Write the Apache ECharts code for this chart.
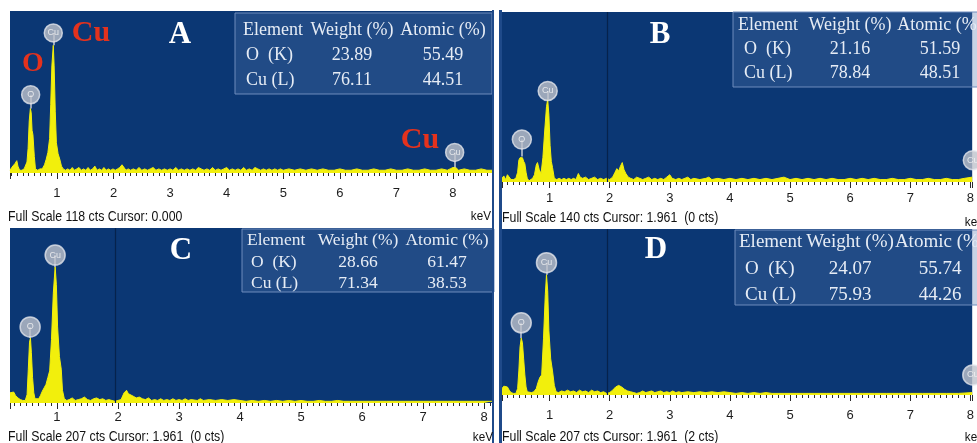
<!DOCTYPE html>
<html><head><meta charset="utf-8">
<script src="https://cdn.jsdelivr.net/npm/echarts@6/dist/echarts.min.js"></script>
<style>html,body{margin:0;padding:0;background:#fff}#c{width:977px;height:443px}</style>
</head><body><div id="c"></div>
<script>
// ---------------- DATA ----------------
const panelLetters = ['A', 'B', 'C', 'D'];
const fullScaleCts = [118, 140, 207, 207];
const keVRange = [[0.17, 8.69], [0.21, 8.03], [0.23, 8.13], [0.21, 8.03]];
const cursorKeV = [null, 1.961, 1.961, 1.961];
const footerTexts = [
  'Full Scale 118 cts Cursor: 0.000',
  'Full Scale 140 cts Cursor: 1.961  (0 cts)',
  'Full Scale 207 cts Cursor: 1.961  (0 cts)',
  'Full Scale 207 cts Cursor: 1.961  (2 cts)'
];
const unitLabel = 'keV';

// spectra: [keV, counts]
const spectrumA = [[0.17,2],[0.20,4],[0.23,3],[0.26,7],[0.29,9],[0.31,5],[0.34,2],[0.38,2],[0.42,3],[0.45,3],[0.47,8],[0.49,18],[0.51,38],[0.53,47],[0.545,44],[0.56,31],[0.575,28],[0.59,27],[0.60,12],[0.62,3],[0.66,2],[0.70,3],[0.74,3],[0.78,6],[0.81,10],[0.84,15],[0.87,25],[0.89,50],[0.91,78],[0.935,93],[0.95,78],[0.97,45],[0.99,22],[1.02,14],[1.05,10],[1.08,5],[1.11,3],[1.15,2],[1.19,3],[1.23,2],[1.27,4],[1.31,2],[1.35,3],[1.39,4],[1.43,2],[1.47,3],[1.51,2],[1.55,4],[1.59,2],[1.63,3],[1.67,5],[1.71,2],[1.75,3],[1.79,2],[1.83,4],[1.87,2],[1.91,3],[1.95,2],[1.99,3],[2.03,2],[2.07,3],[2.11,4],[2.15,6],[2.18,5],[2.22,2],[2.26,3],[2.30,2],[2.35,3],[2.40,2],[2.45,4],[2.50,2],[2.55,3],[2.60,2],[2.65,3],[2.70,4],[2.75,2],[2.80,3],[2.85,2],[2.90,3],[2.95,2],[3.0,3],[3.05,2],[3.10,4],[3.15,2],[3.20,3],[3.25,2],[3.30,3],[3.35,2],[3.40,3],[3.45,2],[3.50,4],[3.55,3],[3.60,2],[3.65,3],[3.70,2],[3.75,4],[3.80,2],[3.85,3],[3.90,2],[3.95,3],[4.0,4],[4.05,2],[4.10,3],[4.15,2],[4.20,3],[4.25,2],[4.30,4],[4.35,2],[4.40,3],[4.45,2],[4.50,4],[4.55,3],[4.60,2],[4.65,3],[4.70,2],[4.75,3],[4.80,2],[4.85,3],[4.90,2],[4.95,3],[5.0,2],[5.1,3],[5.2,2],[5.3,3],[5.4,2],[5.5,3],[5.6,2],[5.7,3],[5.8,2],[5.9,2],[6.0,3],[6.1,2],[6.2,2],[6.3,3],[6.4,2],[6.5,2],[6.6,3],[6.7,2],[6.8,2],[6.9,3],[7.0,2],[7.1,2],[7.2,3],[7.3,2],[7.4,2],[7.5,3],[7.6,2],[7.7,2],[7.8,3],[7.9,2],[7.95,3],[8.0,4],[8.05,4],[8.1,2],[8.2,3],[8.3,2],[8.4,2],[8.5,3],[8.6,2],[8.69,2]];
const spectrumB = [[0.21,3],[0.24,5],[0.27,2],[0.30,6],[0.33,5],[0.36,2],[0.40,2],[0.44,3],[0.47,8],[0.49,18],[0.51,20],[0.53,21],[0.55,20],[0.57,17],[0.59,15],[0.61,8],[0.63,3],[0.66,1],[0.69,2],[0.72,3],[0.75,6],[0.78,14],[0.80,16],[0.83,10],[0.86,7],[0.89,20],[0.92,42],[0.95,62],[0.97,68],[0.99,55],[1.01,30],[1.03,17],[1.05,12],[1.08,3],[1.12,2],[1.16,3],[1.2,2],[1.24,3],[1.28,2],[1.32,3],[1.36,2],[1.40,3],[1.44,2],[1.48,7],[1.51,4],[1.55,3],[1.6,4],[1.65,2],[1.7,3],[1.75,4],[1.8,2],[1.85,3],[1.9,2],[1.95,3],[2.0,2],[2.05,4],[2.09,8],[2.12,11],[2.15,9],[2.18,13],[2.21,16],[2.24,10],[2.27,7],[2.31,4],[2.35,3],[2.40,2],[2.45,4],[2.5,3],[2.55,2],[2.6,3],[2.65,4],[2.7,2],[2.75,3],[2.8,2],[2.85,3],[2.9,2],[2.95,4],[3.0,6],[3.04,3],[3.1,2],[3.15,3],[3.2,2],[3.3,4],[3.35,2],[3.4,3],[3.5,2],[3.6,3],[3.65,4],[3.7,2],[3.8,3],[3.9,2],[4.0,3],[4.1,2],[4.2,3],[4.3,2],[4.4,3],[4.5,2],[4.6,3],[4.7,2],[4.8,3],[4.9,4],[5.0,2],[5.1,3],[5.2,2],[5.3,3],[5.4,2],[5.5,3],[5.6,2],[5.7,3],[5.8,2],[5.9,2],[6.0,3],[6.1,2],[6.2,3],[6.3,2],[6.4,3],[6.5,2],[6.6,2],[6.7,3],[6.8,2],[6.9,2],[7.0,3],[7.1,2],[7.2,2],[7.3,3],[7.4,2],[7.5,2],[7.6,3],[7.7,2],[7.8,2],[7.9,3],[8.03,4]];
const spectrumC = [[0.23,12],[0.26,14],[0.29,13],[0.32,9],[0.36,6],[0.40,4],[0.44,3],[0.48,3],[0.51,10],[0.53,40],[0.55,72],[0.565,77],[0.58,60],[0.60,30],[0.62,12],[0.64,5],[0.67,3],[0.70,5],[0.73,9],[0.76,14],[0.79,18],[0.82,22],[0.85,30],[0.88,38],[0.91,75],[0.94,130],[0.97,161],[0.99,140],[1.01,90],[1.04,55],[1.07,40],[1.09,15],[1.12,5],[1.16,3],[1.2,4],[1.25,6],[1.3,3],[1.35,4],[1.4,5],[1.45,7],[1.5,4],[1.55,3],[1.6,5],[1.65,6],[1.7,4],[1.75,5],[1.8,3],[1.85,4],[1.9,3],[1.95,2],[2.0,3],[2.05,4],[2.1,12],[2.14,15],[2.17,11],[2.2,9],[2.25,8],[2.3,6],[2.35,7],[2.4,5],[2.45,4],[2.5,6],[2.55,3],[2.6,4],[2.65,3],[2.7,5],[2.75,3],[2.8,4],[2.85,3],[2.9,5],[2.95,3],[3.0,4],[3.05,3],[3.1,5],[3.15,3],[3.2,4],[3.3,3],[3.35,5],[3.4,3],[3.5,4],[3.6,3],[3.7,4],[3.8,3],[3.9,4],[4.0,3],[4.1,2],[4.2,3],[4.3,2],[4.4,3],[4.5,2],[4.6,3],[4.7,2],[4.8,3],[4.9,2],[5.0,3],[5.1,2],[5.2,2],[5.3,3],[5.4,2],[5.5,2],[5.6,3],[5.7,2],[5.8,2],[5.9,2],[6.0,2],[6.2,2],[6.4,2],[6.6,2],[6.8,2],[7.0,2],[7.2,2],[7.4,2],[7.6,2],[7.8,2],[8.0,2],[8.13,2]];
const spectrumD = [[0.21,8],[0.24,11],[0.27,12],[0.30,10],[0.33,6],[0.36,3],[0.40,2],[0.44,2],[0.47,8],[0.49,30],[0.51,60],[0.53,71],[0.55,65],[0.57,45],[0.59,25],[0.61,10],[0.63,4],[0.66,2],[0.70,3],[0.74,4],[0.78,8],[0.81,16],[0.84,22],[0.87,25],[0.90,70],[0.93,125],[0.95,150],[0.97,130],[0.99,80],[1.02,45],[1.05,30],[1.08,12],[1.11,4],[1.15,3],[1.2,5],[1.25,4],[1.3,6],[1.35,4],[1.4,5],[1.45,3],[1.5,6],[1.55,4],[1.6,5],[1.65,3],[1.7,6],[1.75,4],[1.8,5],[1.85,3],[1.9,4],[1.95,2],[2.0,3],[2.05,6],[2.1,10],[2.15,12],[2.2,10],[2.25,7],[2.3,5],[2.35,4],[2.4,3],[2.45,2],[2.5,3],[2.55,5],[2.6,3],[2.65,4],[2.7,5],[2.75,3],[2.8,4],[2.85,5],[2.9,3],[2.95,4],[3.0,3],[3.05,5],[3.1,3],[3.15,4],[3.2,3],[3.3,4],[3.4,3],[3.5,4],[3.6,3],[3.7,4],[3.8,3],[3.9,4],[4.0,3],[4.1,2],[4.2,3],[4.3,2],[4.4,3],[4.5,2],[4.6,3],[4.7,2],[4.8,2],[4.9,2],[5.0,2],[5.2,2],[5.4,2],[5.6,2],[5.8,2],[6.0,2],[6.2,2],[6.4,2],[6.6,2],[6.8,2],[7.0,2],[7.2,2],[7.4,2],[7.6,2],[7.8,2],[8.03,3]];

// peak markers: [symbol text, keV, marker centre cts, peak top cts]
const markersA = [['O', 0.535, 57, 47], ['Cu', 0.935, 102, 93], ['Cu', 8.03, 15, 4]];
const markersB = [['O', 0.54, 35, 21], ['Cu', 0.97, 75, 68], ['Cu', 8.04, 18, 4]];
const markersC = [['O', 0.56, 90, 77], ['Cu', 0.97, 175, 161]];
const markersD = [['O', 0.53, 90, 71], ['Cu', 0.95, 165, 150], ['Cu', 8.04, 25, 3]];

// quantification tables
const tableHeader = ['Element', 'Weight (%)', 'Atomic (%)'];
const tableElements = ['O  (K)', 'Cu (L)'];
const weightPct = [['23.89', '76.11'], ['21.16', '78.84'], ['28.66', '71.34'], ['24.07', '75.93']];
const atomicPct = [['55.49', '44.51'], ['51.59', '48.51'], ['61.47', '38.53'], ['55.74', '44.26']];

// red annotations in panel A
const redLabels = [['Cu', 91, 33, 30], ['O', 33, 64, 28], ['Cu', 420, 140, 30]];

// ---------------- LAYOUT ----------------
const layout = [
  { grid: {left: 10, top: 11, width: 482, height: 162}, margin: 14, sym: 18,
    letter: [180, 35], tbl: {x: 235, y: 13, w: 257, h: 81, l: 243, rl: 246, c2: 352, c3: 443, rows: [30, 55, 80], font: 18},
    footer: [8, 217], kev: [491, 216] },
  { grid: {left: 502, top: 12, width: 475, height: 170}, margin: 10, sym: 19,
    letter: [660, 35], tbl: {x: 733, y: 12, w: 250, h: 75, l: 738, rl: 744, c2: 850, c3: 940, rows: [25, 49, 73], font: 18},
    footer: [502, 218], kev: [985, 222] },
  { grid: {left: 10, top: 228, width: 482, height: 175}, margin: 8, sym: 20,
    letter: [181, 251], tbl: {x: 242, y: 229, w: 252, h: 63, l: 247, rl: 251, c2: 358, c3: 447, rows: [240, 262, 283], font: 17.5},
    footer: [8, 437], kev: [493, 437] },
  { grid: {left: 502, top: 229, width: 475, height: 166}, margin: 14, sym: 20,
    letter: [656, 250], tbl: {x: 735, y: 230, w: 245, h: 75, l: 739, rl: 745, c2: 850, c3: 940, rows: [242, 269, 295], font: 19},
    footer: [502, 437], kev: [985, 437] }
];

const spectra = [spectrumA, spectrumB, spectrumC, spectrumD];
const markers = [markersA, markersB, markersC, markersD];

const BLUE = '#0b3774';
const YELLOW = '#f2ef0c';
const SERIF = '"Liberation Serif", "Times New Roman", serif';
const SANS = '"Liberation Sans", Arial, sans-serif';

const grids = [], xAxes = [], yAxes = [], series = [], graphics = [];

function txt(x, y, text, font, fill, align, valign, z, extra) {
  return Object.assign({
    type: 'text', x: x, y: y, z: z || 20, silent: true,
    style: {text: text, font: font, fill: fill, align: align, verticalAlign: valign,
            textAlign: align, textVerticalAlign: valign}
  }, extra || {});
}

layout.forEach((L, i) => {
  grids.push(Object.assign({show: true, backgroundColor: BLUE, borderWidth: 0}, L.grid));
  xAxes.push({
    type: 'value', gridIndex: i, min: keVRange[i][0], max: keVRange[i][1],
    splitNumber: 8, minInterval: 1, maxInterval: 1,
    axisLine: {show: false},
    axisTick: {show: true, length: 6, lineStyle: {color: '#2a2a2a', width: 1}},
    minorTick: {show: true, splitNumber: 10, length: 3, lineStyle: {color: '#2a2a2a', width: 1}},
    splitLine: {show: false}, minorSplitLine: {show: false},
    axisLabel: {margin: L.margin, color: '#1d1d1d', fontSize: 13, fontFamily: SANS,
                showMinLabel: false, showMaxLabel: false}
  });
  yAxes.push({type: 'value', gridIndex: i, min: 0, max: fullScaleCts[i], show: false});

  const ml = markers[i].map(m => [
    {coord: [m[1], m[3]], lineStyle: {color: '#c9ccd4', width: 1.5, type: 'solid'}},
    {coord: [m[1], m[2]]}
  ]);
  if (cursorKeV[i] !== null) {
    ml.push({xAxis: cursorKeV[i], lineStyle: {color: '#06224c', width: 1.2, type: 'solid'}});
  }
  series.push({
    type: 'line', xAxisIndex: i, yAxisIndex: i, data: spectra[i],
    symbol: 'none', animation: false, z: 2,
    lineStyle: {color: YELLOW, width: 1},
    areaStyle: {color: YELLOW, opacity: 1},
    markLine: {silent: true, symbol: 'none', animation: false, label: {show: false}, data: ml}
  });
  series.push({
    type: 'scatter', xAxisIndex: i, yAxisIndex: i, z: 5, clip: false, animation: false,
    data: markers[i].map(m => ({name: m[0], value: [m[1], m[2]]})),
    symbol: 'circle', symbolSize: L.sym,
    itemStyle: {color: '#bfc3cc', borderColor: '#e4e6ec', borderWidth: 1.5},
    label: {show: true, position: 'inside', formatter: '{b}', color: '#f6f6f6', fontSize: 9, fontFamily: SANS}
  });

  graphics.push(txt(L.letter[0], L.letter[1], panelLetters[i], 'bold 31px ' + SERIF, '#ffffff', 'center', 'middle'));
  const T = L.tbl;
  graphics.push({type: 'rect', z: 8, silent: true, shape: {x: T.x, y: T.y, width: T.w, height: T.h},
    style: {fill: 'rgba(80,118,175,0.32)', stroke: '#6f8cbc', lineWidth: 1}});
  const f = T.font + 'px ' + SERIF, tc = '#e6ecf5';
  graphics.push(txt(T.l, T.rows[0], tableHeader[0], f, tc, 'left', 'middle'));
  graphics.push(txt(T.c2, T.rows[0], tableHeader[1], f, tc, 'center', 'middle'));
  graphics.push(txt(T.c3, T.rows[0], tableHeader[2], f, tc, 'center', 'middle'));
  for (let r = 0; r < 2; r++) {
    graphics.push(txt(T.rl, T.rows[r + 1], tableElements[r], f, tc, 'left', 'middle'));
    graphics.push(txt(T.c2, T.rows[r + 1], weightPct[i][r], f, tc, 'center', 'middle'));
    graphics.push(txt(T.c3, T.rows[r + 1], atomicPct[i][r], f, tc, 'center', 'middle'));
  }
  graphics.push(txt(L.footer[0], L.footer[1], footerTexts[i], '14px ' + SANS, '#111111', 'left', 'middle', 20, {scaleX: 0.88}));
  graphics.push(txt(L.kev[0], L.kev[1], unitLabel, '13px ' + SANS, '#111111', 'right', 'middle', 20, {scaleX: 0.9}));
});

redLabels.forEach(r => graphics.push(txt(r[1], r[2], r[0], 'bold ' + r[3] + 'px ' + SERIF, '#e4321d', 'center', 'middle')));

[[492, 10, 2, 217], [499, 10, 3, 217], [492, 227, 2, 216], [499, 226, 3, 217]].forEach(b =>
  graphics.push({type: 'rect', z: 9, silent: true, shape: {x: b[0], y: b[1], width: b[2], height: b[3]}, style: {fill: '#1f4a8a'}}));

const chart = echarts.init(document.getElementById('c'), null, {renderer: 'canvas'});
chart.setOption({
  animation: false,
  backgroundColor: '#ffffff',
  grid: grids, xAxis: xAxes, yAxis: yAxes, series: series, graphic: graphics
});
</script></body></html>
